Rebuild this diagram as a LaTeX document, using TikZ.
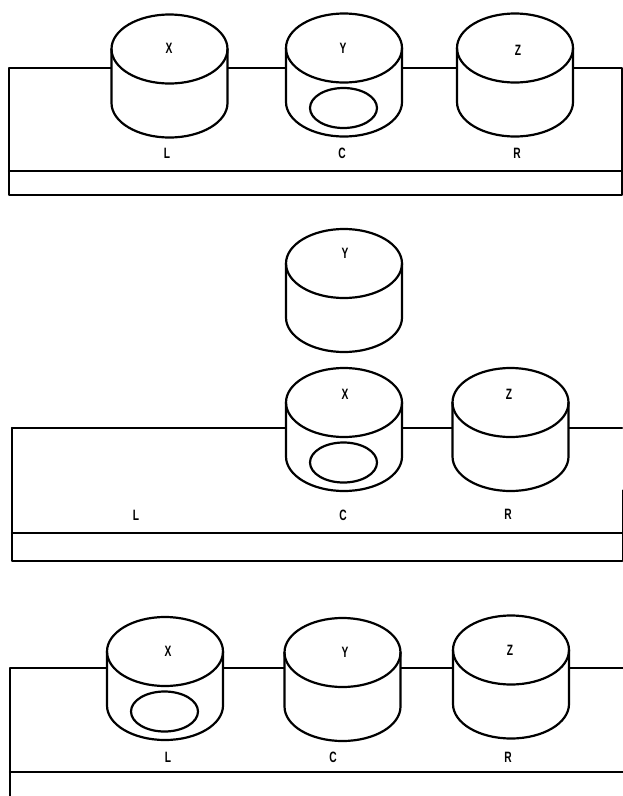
\documentclass[tikz,border=0pt]{standalone}
\usepackage{fontspec}
\usepackage{graphicx}
\setmainfont{Liberation Sans}
\begin{document}
\begin{tikzpicture}[yscale=-1, x=1pt, y=1pt,
  line/.style={line width=2.2pt, line cap=round, line join=round},
  lbl/.style={inner sep=0pt, font=\fontsize{15}{15}\selectfont\bfseries},
  % pics keep their own upright frame: y points up inside them
  drum/.pic={
    % body, filled white so the platform edge behind it is hidden
    \fill[white] (-58,0) -- (-58,-54)
      arc[start angle=180, end angle=360, x radius=58, y radius=34.5]
      -- (58,0) -- cycle;
    \fill[white] (0,0) ellipse[x radius=58, y radius=34.5];
    \draw[line] (-58,0) -- (-58,-54)
      arc[start angle=180, end angle=360, x radius=58, y radius=34.5]
      -- (58,0);
    \draw[line] (0,0) ellipse[x radius=58, y radius=34.5];
  },
  hole/.pic={
    \draw[line] (-0.5,-60) ellipse[x radius=33.5, y radius=20];
  }]
\useasboundingbox (0,0) rectangle (623,796);
\newcommand{\tag}[1]{\scalebox{0.68}[1]{#1}}

% ---------- top row: X on L, Y on C, Z on R ----------
\draw[line] (9,68) -- (622,68) -- (622,195) -- (9,195) -- cycle;
\draw[line] (9,171) -- (622,171);
\pic at (169.5,49) {drum};
\pic at (344,48) {drum};
\pic at (344,48) {hole};
\pic at (515,48) {drum};
\node[lbl] (ax) at (169,48) {\tag{X}};
\node[lbl] (ay) at (343,48) {\tag{Y}};
\node[lbl] (az) at (518,50) {\tag{Z}};
\node[lbl] (al) at (167,153) {\tag{L}};
\node[lbl] (ac) at (342,153) {\tag{C}};
\node[lbl] (ar) at (517,153) {\tag{R}};

% ---------- middle row: Y lifted above X on C ----------
\draw[line] (12,428) -- (622,428);
\draw[line] (12,428) -- (12,561) -- (622,561);
\draw[line, line width=1pt] (622,490) -- (622,561);
\draw[line] (12,533) -- (622,533);
\pic at (344,263.5) {drum};
\pic at (344,402.5) {drum};
\pic at (344,402.5) {hole};
\pic at (510.5,402.5) {drum};
\node[lbl] (by) at (345,253) {\tag{Y}};
\node[lbl] (bx) at (345,394) {\tag{X}};
\node[lbl] (bz) at (509,394) {\tag{Z}};
\node[lbl] (bl) at (136,515) {\tag{L}};
\node[lbl] (bc) at (343,515) {\tag{C}};
\node[lbl] (br) at (508,514) {\tag{R}};

% ---------- bottom row: X on L, Y on C, Z on R ----------
\draw[line] (10,796) -- (10,668) -- (623,668);
\draw[line] (10,772) -- (623,772);
\pic at (165,651.5) {drum};
\pic at (165,651.5) {hole};
\pic at (342.5,652.5) {drum};
\pic at (511,650) {drum};
\node[lbl] (cx) at (168,651) {\tag{X}};
\node[lbl] (cy) at (345,652) {\tag{Y}};
\node[lbl] (cz) at (510,650) {\tag{Z}};
\node[lbl] (cl) at (168,757) {\tag{L}};
\node[lbl] (cc) at (333,757) {\tag{C}};
\node[lbl] (cr) at (508,757) {\tag{R}};
\end{tikzpicture}
\end{document}
